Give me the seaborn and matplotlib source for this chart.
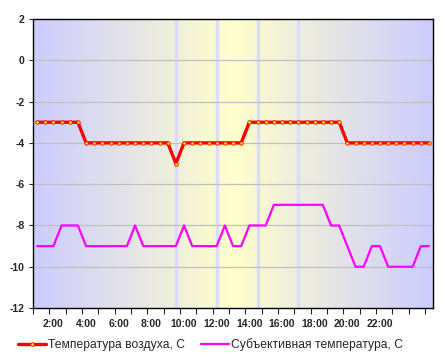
import numpy as np
import pandas as pd
import matplotlib
matplotlib.use('Agg')
import matplotlib.pyplot as plt
import seaborn as sns

# half-hour readings, 49 points
air_temp = [-3, -3, -3, -3, -3, -3,
            -4, -4, -4, -4, -4, -4, -4, -4, -4, -4, -4,
            -5,
            -4, -4, -4, -4, -4, -4, -4, -4,
            -3, -3, -3, -3, -3, -3, -3, -3, -3, -3, -3, -3,
            -4, -4, -4, -4, -4, -4, -4, -4, -4, -4, -4]
feels_temp = [-9, -9, -9, -8, -8, -8,
              -9, -9, -9, -9, -9, -9,
              -8,
              -9, -9, -9, -9, -9,
              -8,
              -9, -9, -9, -9,
              -8,
              -9, -9,
              -8, -8, -8,
              -7, -7, -7, -7, -7, -7, -7,
              -8, -8,
              -9,
              -10, -10,
              -9, -9,
              -10, -10, -10, -10,
              -9, -9]
hour_labels = ['2:00', '4:00', '6:00', '8:00', '10:00', '12:00',
               '14:00', '16:00', '18:00', '20:00', '22:00']
label_idx = [2, 6, 10, 14, 18, 22, 26, 30, 34, 38, 42]
marker_lines = [17, 22, 27, 32]
y_ticks = [2, 0, -2, -4, -6, -8, -10, -12]

air_name = 'Температура воздуха, С'
feels_name = 'Субъективная температура, С'


def gradient_background(ax, n):
    edge = np.array([204, 204, 255]) / 255
    mid = np.array([255, 255, 204]) / 255
    t = 1 - np.abs(np.linspace(-1, 1, 400))
    cols = edge[None, :] * (1 - t[:, None]) + mid[None, :] * t[:, None]
    img = np.repeat(cols[None, :, :], 2, axis=0)
    ax.imshow(img, extent=[-0.5, n - 0.5, -12, 2], aspect='auto',
              zorder=0, interpolation='bilinear')


def draw():
    sns.set_style('white')
    plt.rcParams['font.family'] = ['Liberation Sans', 'DejaVu Sans']
    plt.rcParams['axes.unicode_minus'] = False

    n = len(air_temp)
    idx = np.arange(n)
    frame = pd.DataFrame({'idx': idx, 'air': air_temp, 'feels': feels_temp})

    fig = plt.figure(figsize=(4.46, 3.62), dpi=100)
    ax = fig.add_axes([0.074, 0.149, 0.897, 0.7985])

    gradient_background(ax, n)
    for xv in marker_lines:
        ax.axvline(xv, color='#dcdcff', lw=2.5, zorder=1)
    for yv in [0, -2, -4, -6, -8, -10]:
        ax.axhline(yv, color='#c0c0c0', lw=0.9, zorder=1)

    sns.lineplot(data=frame, x='idx', y='air', ax=ax, color='#ff0000',
                 lw=2.4, marker='o', markersize=2.5, markerfacecolor='#ffff00',
                 markeredgecolor='#ff0000', markeredgewidth=0.6,
                 label=air_name, zorder=4)
    sns.lineplot(data=frame, x='idx', y='feels', ax=ax, color='#ff00ff',
                 lw=1.6, label=feels_name, zorder=3)

    ax.set_xlim(-0.5, n - 0.5)
    ax.set_ylim(-12, 2)
    ax.set_xlabel('')
    ax.set_ylabel('')

    ax.set_yticks(y_ticks)
    ax.set_yticklabels([str(v) for v in y_ticks], fontsize=7.5, fontweight='bold')
    ax.set_xticks(label_idx)
    ax.set_xticklabels(hour_labels, fontsize=7.5, fontweight='bold')
    ax.set_xticks(np.arange(-0.5, n - 0.5, 2), minor=True)
    ax.tick_params(axis='x', which='major', length=0, pad=8)
    ax.tick_params(axis='x', which='minor', length=4, width=0.8,
                   direction='out', bottom=True)
    ax.tick_params(axis='y', length=3, width=0.8, direction='out', left=True, pad=3)

    for sp in ax.spines.values():
        sp.set_color('black')
        sp.set_linewidth(1.0)
        sp.set_zorder(5)

    handles, labels = ax.get_legend_handles_labels()
    ax.get_legend().remove()
    fig.legend(handles, labels, loc='center', bbox_to_anchor=(0.472, 0.047),
               ncol=2, frameon=False, fontsize=8.7, handlelength=2.3,
               handletextpad=0.2, columnspacing=1.3)

    plt.savefig('out.png', dpi=100)


if __name__ == '__main__':
    draw()
